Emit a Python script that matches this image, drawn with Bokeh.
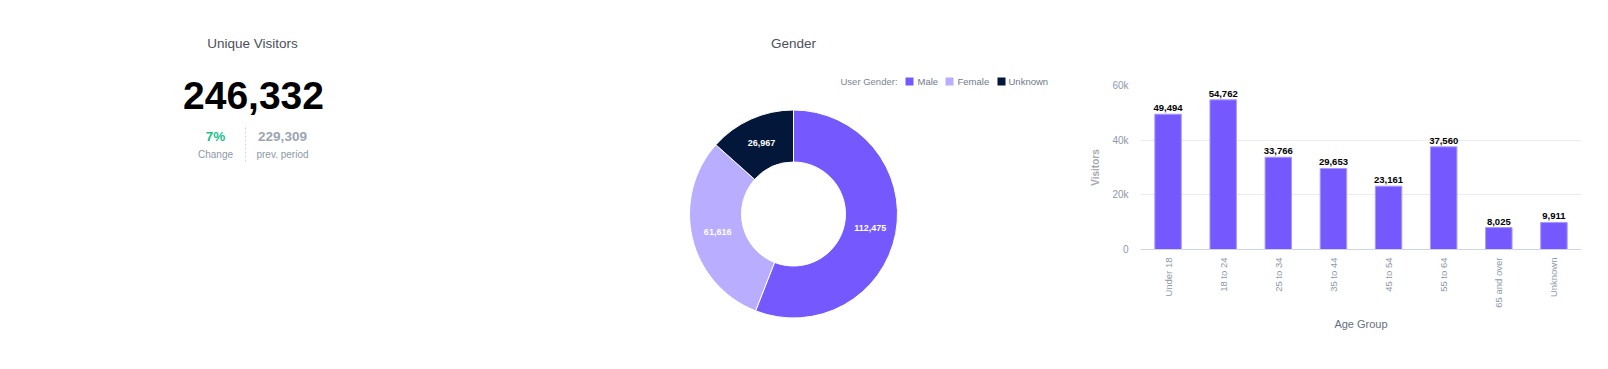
import numpy as np
from bokeh.plotting import figure
from bokeh.layouts import row
from bokeh.models import Range1d, Label, LabelSet, FactorRange, ColumnDataSource, FixedTicker
from bokeh.core.properties import value
from bokeh.embed import file_html
from bokeh.resources import INLINE

# ---------------- data ----------------
kpi_title = "Unique Visitors"
kpi_value = 246332
kpi_change_pct = 7
kpi_prev = 229309

gender_title = "Gender"
gender_labels = ["Male", "Female", "Unknown"]
gender_values = [112475, 61616, 26967]
gender_colors = ["#7559ff", "#b9adff", "#02173a"]

age_title = "Age Group"
age_groups = ["Under 18", "18 to 24", "25 to 34", "35 to 44", "45 to 54",
              "55 to 64", "65 and over", "Unknown"]
age_visitors = [49494, 54762, 33766, 29653, 23161, 37560, 8025, 9911]
y_ticks = [0, 20000, 40000, 60000]
y_tick_labels = ["0", "20k", "40k", "60k"]

# ---------------- style ----------------
FONT = "Liberation Sans"
H = 353
OX, OY = 0, 0          # page position of the layout's top-left corner
TITLE_COLOR = "#4b5058"
GRAY = "#8e98a8"


def blank(w):
    p = figure(width=w, height=H, x_range=Range1d(0, w), y_range=Range1d(0, H),
               output_backend="svg", toolbar_location=None, min_border=0,
               x_axis_type=None, y_axis_type=None)
    p.grid.visible = False
    p.outline_line_color = None
    p.frame_align = False
    return p


def lab(p, x, y, text, size, color, bold=False, align="center", baseline="middle"):
    p.add_layout(Label(x=x, y=y, text=text, text_font=FONT, text_font_size=size,
                       text_color=color, text_font_style="bold" if bold else "normal",
                       text_align=align, text_baseline=baseline))


sy = lambda y: H - (y - OY)

# ---------------- KPI panel ----------------
W1 = 500
p1 = blank(W1)
ox1 = OX
lab(p1, 252 - ox1, sy(43), kpi_title, "13.5px", TITLE_COLOR)
lab(p1, 253 - ox1, sy(95), f"{kpi_value:,}", "39px", "#000000", bold=True)
lab(p1, 215 - ox1, sy(136), f"{kpi_change_pct}%", "13.5px", "#19c18b", bold=True)
lab(p1, 215 - ox1, sy(154), "Change", "10px", GRAY)
lab(p1, 282 - ox1, sy(136), f"{kpi_prev:,}", "13.5px", "#9aa5b4", bold=True)
lab(p1, 282 - ox1, sy(154), "prev. period", "10px", GRAY)
p1.segment(x0=[245 - ox1], y0=[sy(127)], x1=[245 - ox1], y1=[sy(161)],
           line_color="#d3d9e1", line_width=1, line_dash="2 2")

# ---------------- Gender donut ----------------
W2 = 560
ox2 = OX + W1
p2 = blank(W2)
lab(p2, 793 - ox2, sy(43), gender_title, "13.5px", TITLE_COLOR)

lab(p2, 840 - ox2, sy(81), "User Gender:", "9.5px", "#7b8594", align="left")
sq_x = [909, 949, 1001]
tx_x = [917, 957, 1008]
p2.scatter(x=[s - ox2 for s in sq_x], y=[sy(81)] * 3, marker="square", size=8,
           fill_color=gender_colors, line_color=None)
for t, g in zip(tx_x, gender_labels):
    lab(p2, t - ox2, sy(81), g, "9.5px", "#6f7a8a", align="left")

cx, cy = 793 - ox2, sy(213.5)
r_out, r_in = 104, 52
vals = np.array(gender_values, dtype=float)
frac = vals / vals.sum()
cum = np.concatenate([[0.0], np.cumsum(frac)])
start = np.pi / 2 - 2 * np.pi * cum[:-1]
end = np.pi / 2 - 2 * np.pi * cum[1:]
p2.annular_wedge(x=cx, y=cy, inner_radius=r_in, outer_radius=r_out,
                 start_angle=start, end_angle=end, direction="clock",
                 fill_color=gender_colors, line_color="white", line_width=1)
mid = (start + end) / 2
rm = (r_in + r_out) / 2
dsrc = ColumnDataSource(dict(x=cx + rm * np.cos(mid), y=cy + rm * np.sin(mid),
                             t=[f"{v:,}" for v in gender_values]))
p2.text(x="x", y="y", text="t", source=dsrc, text_color="white",
        text_font=value(FONT), text_font_size="9px", text_font_style="bold",
        text_align="center", text_baseline="middle")

# ---------------- Age group bars ----------------
W3 = 532
ox3 = OX + W1 + W2
fl, fw, ft, fb = 1140, 441, 85, 249   # page px of the plot frame
p3 = figure(width=W3, height=H, x_range=FactorRange(factors=age_groups),
            y_range=Range1d(0, 60000), output_backend="svg", toolbar_location=None,
            min_border_left=fl - ox3, min_border_right=W3 - (fl - ox3) - fw,
            min_border_top=ft - OY, min_border_bottom=H - (fb - OY))
p3.frame_align = False
p3.outline_line_color = None
src = ColumnDataSource(dict(x=age_groups, top=age_visitors,
                            t=[f"{v:,}" for v in age_visitors]))
p3.vbar(x="x", top="top", width=0.48, source=src, fill_color="#7559ff",
        line_color="#a898ff", line_width=1)
p3.add_layout(LabelSet(x="x", y="top", text="t", source=src, text_font=value(FONT),
                       text_font_size="9.5px", text_font_style="bold",
                       text_color="#000000", text_align="center",
                       text_baseline="bottom", y_offset=3))

p3.xgrid.visible = False
p3.ygrid.ticker = FixedTicker(ticks=y_ticks)
p3.ygrid.grid_line_color = "#ececec"

yax = p3.yaxis[0]
yax.ticker = FixedTicker(ticks=y_ticks)
yax.major_label_overrides = {t: l for t, l in zip(y_ticks, y_tick_labels)}
yax.axis_line_color = None
yax.major_tick_line_color = None
yax.minor_tick_line_color = None
yax.major_tick_out = 0
yax.major_tick_in = 0
yax.major_label_standoff = 12
yax.major_label_text_font = FONT
yax.major_label_text_font_size = "10px"
yax.major_label_text_color = GRAY
yax.axis_label = "Visitors"
yax.axis_label_text_font = FONT
yax.axis_label_text_font_style = "bold"
yax.axis_label_text_font_size = "10px"
yax.axis_label_text_color = "#a5a9ae"
yax.axis_label_standoff = 8

xax = p3.xaxis[0]
xax.axis_line_color = "#ccd6eb"
xax.major_tick_line_color = None
xax.minor_tick_line_color = None
xax.major_tick_out = 0
xax.major_tick_in = 0
xax.major_label_orientation = np.pi / 2
xax.major_label_standoff = 8
xax.major_label_text_font = FONT
xax.major_label_text_font_size = "9.5px"
xax.major_label_text_color = GRAY
xax.axis_label = "Age Group"
xax.axis_label_text_font = FONT
xax.axis_label_text_font_style = "normal"
xax.axis_label_text_font_size = "11px"
xax.axis_label_text_color = "#666f7d"
xax.axis_label_standoff = 7

px_cat = fw / len(age_groups)
p3.add_layout(Label(x=(1333 - fl) / px_cat, y=(fb - 43) * 60000 / (fb - ft),
                    text=age_title, text_font=FONT, text_font_size="13.5px",
                    text_color=TITLE_COLOR, text_align="center",
                    text_baseline="middle"))

layout = row(p1, p2, p3)
open("out.html", "w").write(file_html(layout, INLINE))
